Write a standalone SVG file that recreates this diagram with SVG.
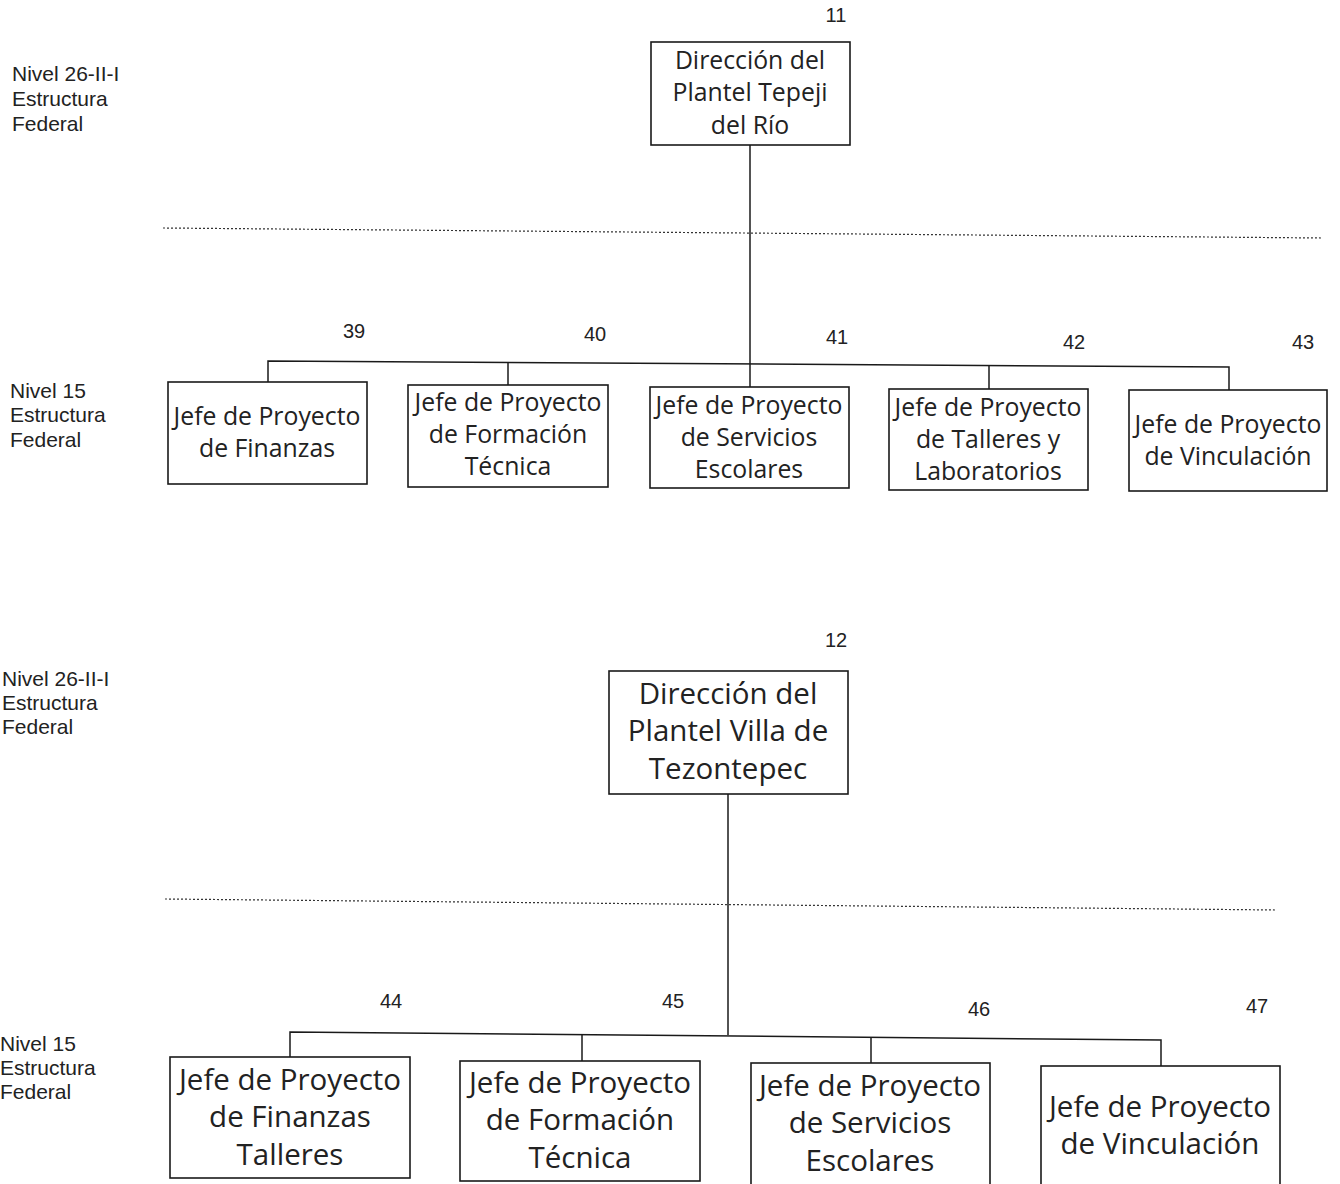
<svg xmlns="http://www.w3.org/2000/svg" width="1340" height="1184" viewBox="0 0 1340 1184">
<style>
.bg{fill:#fff}
.box{fill:#fff;stroke:#1a1a1a;stroke-width:1.6}
.t{font-family:"Open Sans","Noto Sans",sans-serif;fill:#222;text-anchor:middle}
.s{font-size:24.8px}
.l{font-size:29.5px}
.lab{font-family:"Liberation Sans",Arial,sans-serif;font-size:21px;fill:#222}
.num{font-family:"Liberation Sans",Arial,sans-serif;font-size:20px;fill:#222;text-anchor:middle}
.c{fill:none;stroke:#1a1a1a;stroke-width:1.5}
.dot{fill:none;stroke:#333;stroke-width:1.2;stroke-dasharray:2 2}
</style>
<rect class="bg" x="0" y="0" width="1340" height="1184"/>

<g id="labels">
<text class="lab" x="12" y="81">Nivel 26-II-I</text>
<text class="lab" x="12" y="106">Estructura</text>
<text class="lab" x="12" y="131">Federal</text>
<text class="lab" x="10" y="398">Nivel 15</text>
<text class="lab" x="10" y="422">Estructura</text>
<text class="lab" x="10" y="447">Federal</text>
<text class="lab" x="2" y="686">Nivel 26-II-I</text>
<text class="lab" x="2" y="710">Estructura</text>
<text class="lab" x="2" y="734">Federal</text>
<text class="lab" x="0" y="1051">Nivel 15</text>
<text class="lab" x="0" y="1075">Estructura</text>
<text class="lab" x="0" y="1099">Federal</text>
</g>

<g id="numbers">
<text class="num" x="836" y="22">11</text>
<text class="num" x="354" y="338">39</text>
<text class="num" x="595" y="341">40</text>
<text class="num" x="837" y="344">41</text>
<text class="num" x="1074" y="349">42</text>
<text class="num" x="1303" y="349">43</text>
<text class="num" x="836" y="647">12</text>
<text class="num" x="391" y="1008">44</text>
<text class="num" x="673" y="1008">45</text>
<text class="num" x="979" y="1016">46</text>
<text class="num" x="1257" y="1013">47</text>
</g>

<g id="connectors">
<line class="dot" x1="163" y1="228" x2="1322" y2="238"/>
<line class="dot" x1="165" y1="899" x2="1277" y2="910"/>
<line class="c" x1="750" y1="145" x2="750" y2="364"/>
<polyline class="c" points="268,382 268,361 1229,367 1229,390"/>
<line class="c" x1="508" y1="362.5" x2="508" y2="385"/>
<line class="c" x1="750" y1="364" x2="750" y2="387"/>
<line class="c" x1="989" y1="365.5" x2="989" y2="389"/>
<line class="c" x1="728" y1="794" x2="728" y2="1035"/>
<polyline class="c" points="290,1057 290,1032 1161,1040 1161,1066"/>
<line class="c" x1="582" y1="1034.7" x2="582" y2="1061"/>
<line class="c" x1="871" y1="1037.4" x2="871" y2="1063"/>
</g>

<g id="n11">
<rect class="box" x="651" y="42" width="199" height="103"/>
<text class="t s" x="750" y="69">Dirección del</text>
<text class="t s" x="750" y="101">Plantel Tepeji</text>
<text class="t s" x="750" y="134">del Río</text>
</g>

<g id="n39">
<rect class="box" x="168" y="382" width="199" height="102"/>
<text class="t s" x="267" y="425">Jefe de Proyecto</text>
<text class="t s" x="267" y="457">de Finanzas</text>
</g>
<g id="n40">
<rect class="box" x="408" y="385" width="200" height="102"/>
<text class="t s" x="508" y="411">Jefe de Proyecto</text>
<text class="t s" x="508" y="443">de Formación</text>
<text class="t s" x="508" y="475">Técnica</text>
</g>
<g id="n41">
<rect class="box" x="650" y="387" width="199" height="101"/>
<text class="t s" x="749" y="414">Jefe de Proyecto</text>
<text class="t s" x="749" y="446">de Servicios</text>
<text class="t s" x="749" y="478">Escolares</text>
</g>
<g id="n42">
<rect class="box" x="889" y="389" width="199" height="101"/>
<text class="t s" x="988" y="416">Jefe de Proyecto</text>
<text class="t s" x="988" y="448">de Talleres y</text>
<text class="t s" x="988" y="480">Laboratorios</text>
</g>
<g id="n43">
<rect class="box" x="1129" y="390" width="198" height="101"/>
<text class="t s" x="1228" y="433">Jefe de Proyecto</text>
<text class="t s" x="1228" y="465">de Vinculación</text>
</g>

<g id="n12">
<rect class="box" x="609" y="671" width="239" height="123"/>
<text class="t l" x="728" y="704">Dirección del</text>
<text class="t l" x="728" y="741">Plantel Villa de</text>
<text class="t l" x="728" y="779">Tezontepec</text>
</g>

<g id="n44">
<rect class="box" x="170" y="1057" width="240" height="121"/>
<text class="t l" x="290" y="1090">Jefe de Proyecto</text>
<text class="t l" x="290" y="1127">de Finanzas</text>
<text class="t l" x="290" y="1165">Talleres</text>
</g>
<g id="n45">
<rect class="box" x="460" y="1061" width="240" height="120"/>
<text class="t l" x="580" y="1093">Jefe de Proyecto</text>
<text class="t l" x="580" y="1130">de Formación</text>
<text class="t l" x="580" y="1168">Técnica</text>
</g>
<g id="n46">
<rect class="box" x="751" y="1063" width="239" height="130"/>
<text class="t l" x="870" y="1096">Jefe de Proyecto</text>
<text class="t l" x="870" y="1133">de Servicios</text>
<text class="t l" x="870" y="1171">Escolares</text>
</g>
<g id="n47">
<rect class="box" x="1041" y="1066" width="239" height="130"/>
<text class="t l" x="1160" y="1117">Jefe de Proyecto</text>
<text class="t l" x="1160" y="1154">de Vinculación</text>
</g>
</svg>
